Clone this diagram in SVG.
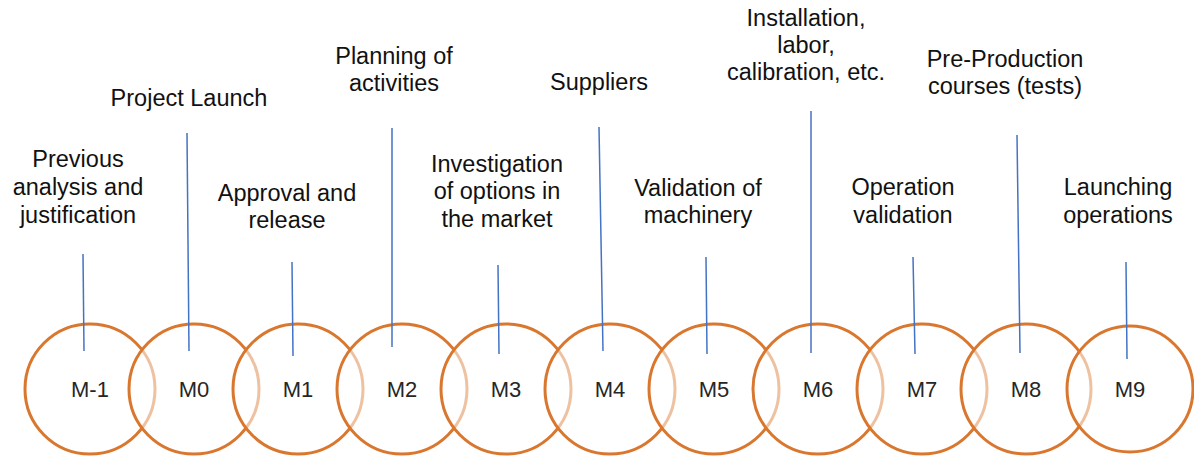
<svg xmlns="http://www.w3.org/2000/svg" width="1194" height="456" viewBox="0 0 1194 456">
<style>
.lbl{font-family:"Liberation Sans",Arial,sans-serif;font-size:23.5px;fill:#111;text-anchor:middle}
.m{font-family:"Liberation Sans",Arial,sans-serif;font-size:22px;fill:#262626;text-anchor:middle}
.c{fill:#fff;fill-opacity:0.55;stroke:#D9772F;stroke-width:3}
.ln{stroke:#4472C4;stroke-width:1.5;fill:none}
</style>
<rect width="1194" height="456" fill="#fff"/>
<g id="node-m-1"><circle class="c" cx="90" cy="389" r="65"/><text class="m" x="90" y="397">M-1</text>
<text class="lbl" x="78" y="167">Previous</text><text class="lbl" x="78" y="195">analysis and</text><text class="lbl" x="78" y="223">justification</text></g>
<g id="node-m0"><circle class="c" cx="194" cy="389" r="65"/><text class="m" x="194" y="397">M0</text>
<text class="lbl" x="189" y="106">Project Launch</text></g>
<g id="node-m1"><circle class="c" cx="298" cy="389" r="65"/><text class="m" x="298" y="397">M1</text>
<text class="lbl" x="287" y="201">Approval and</text><text class="lbl" x="287" y="228">release</text></g>
<g id="node-m2"><circle class="c" cx="402" cy="389" r="65"/><text class="m" x="402" y="397">M2</text>
<text class="lbl" x="394" y="64">Planning of</text><text class="lbl" x="394" y="91">activities</text></g>
<g id="node-m3"><circle class="c" cx="506" cy="389" r="65"/><text class="m" x="506" y="397">M3</text>
<text class="lbl" x="497" y="172">Investigation</text><text class="lbl" x="497" y="199">of options in</text><text class="lbl" x="497" y="227">the market</text></g>
<g id="node-m4"><circle class="c" cx="610" cy="389" r="65"/><text class="m" x="610" y="397">M4</text>
<text class="lbl" x="599" y="90">Suppliers</text></g>
<g id="node-m5"><circle class="c" cx="714" cy="389" r="65"/><text class="m" x="714" y="397">M5</text>
<text class="lbl" x="698" y="196">Validation of</text><text class="lbl" x="698" y="223">machinery</text></g>
<g id="node-m6"><circle class="c" cx="818" cy="389" r="65"/><text class="m" x="818" y="397">M6</text>
<text class="lbl" x="806" y="26">Installation,</text><text class="lbl" x="806" y="53">labor,</text><text class="lbl" x="806" y="80">calibration, etc.</text></g>
<g id="node-m7"><circle class="c" cx="922" cy="389" r="65"/><text class="m" x="922" y="397">M7</text>
<text class="lbl" x="903" y="195">Operation</text><text class="lbl" x="903" y="223">validation</text></g>
<g id="node-m8"><circle class="c" cx="1026" cy="389" r="65"/><text class="m" x="1026" y="397">M8</text>
<text class="lbl" x="1005" y="67">Pre-Production</text><text class="lbl" x="1005" y="94">courses (tests)</text></g>
<g id="node-m9"><circle class="c" cx="1130" cy="389" r="63"/><text class="m" x="1130" y="397">M9</text>
<text class="lbl" x="1118" y="195">Launching</text><text class="lbl" x="1118" y="223">operations</text></g>
<g id="connectors">
<line class="ln" x1="83" y1="254" x2="84" y2="351"/>
<line class="ln" x1="187" y1="133" x2="189" y2="351"/>
<line class="ln" x1="292" y1="262" x2="293" y2="356"/>
<line class="ln" x1="392" y1="128" x2="392" y2="347"/>
<line class="ln" x1="498" y1="265" x2="499" y2="354"/>
<line class="ln" x1="599" y1="127" x2="603" y2="351"/>
<line class="ln" x1="706" y1="257" x2="707" y2="354"/>
<line class="ln" x1="811" y1="111" x2="811" y2="353"/>
<line class="ln" x1="913" y1="257" x2="915" y2="354"/>
<line class="ln" x1="1017" y1="135" x2="1020" y2="353"/>
<line class="ln" x1="1126" y1="262" x2="1127" y2="359"/>
</g>
</svg>
